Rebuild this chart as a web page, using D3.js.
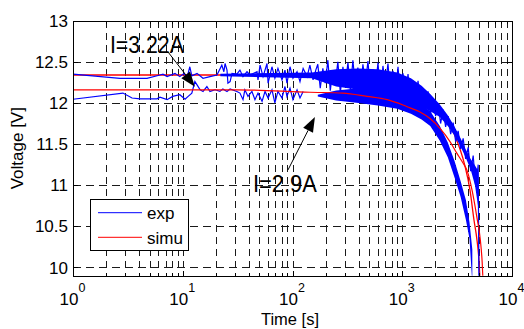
<!DOCTYPE html>
<html>
<head>
<meta charset="utf-8">
<script src="https://cdn.jsdelivr.net/npm/d3@7"></script>
<style>
body { margin: 0; background: #fff; }
svg { display: block; font-family: "Liberation Sans", Arial, sans-serif; }
</style>
</head>
<body>
<div id="chart"></div>
<script>
// measured trace, upper level (start ~12.35 V)
const expA_t0 = [1,2.68,4.72,6.2,6.6,7.2,8.5,9.4,10.3,10.9,11.6,12.1,13.5,15.3,17.7,20.5,22.7,23.7,24.3,25.3,25.8,27.0,28.1,31.1,33.2,35.4,38.5,41.0,47.5,48.5,50.6,53.9,58.6,59.9,65.0,69.1,73.7,80.2,85.4,89.0,94.9,101,110,117,125,136,144,154,163];
const expA_v0 = [12.35,12.30,12.30,12.34,12.35,12.32,12.36,12.32,12.36,12.30,12.44,12.33,12.36,12.30,12.32,12.34,12.46,12.38,12.48,12.40,12.24,12.26,12.36,12.35,12.40,12.32,12.38,12.34,12.38,12.28,12.46,12.32,12.48,12.24,12.44,12.30,12.42,12.28,12.40,12.24,12.44,12.30,12.38,12.26,12.42,12.32,12.46,12.28,12.40];
// measured trace, lower level (start ~12.05 V)
const expB_t0 = [1,2.85,3.45,4.08,5.83,6.2,7.2,8.1,9.4,10.5,11.2,12.1,12.9,13.5,14.4,15.3,16.6,17.7,19.7,21.8,23.2,25.3,27.0,31.1,33.2,35.4,36.8,39.3,42.7,45.5,48.5,52.8,56.2,59.9,65.0,69.1,73.7,80.2,85.4,89.0,94.9,101,110,117,125,136,144,154,163];
const expB_v0 = [12.045,12.12,12.06,12.05,12.05,12.07,12.04,12.08,12.10,12.045,12.08,12.12,12.26,12.22,12.16,12.14,12.20,12.14,12.16,12.14,12.17,12.14,12.17,12.14,12.12,12.04,12.16,12.08,12.14,12.04,12.12,12.02,12.14,12.06,12.16,12.00,12.14,12.06,12.20,12.08,12.18,12.04,12.16,12.06,12.14];

// sample times in the noisy part (s)
const denseT = [170,179,189,199,210,221,233,246,259,273,288,303,320,337,355,374,394,416,438,462,487,513,541,570,601,633,667,703,741,781,823,868,915,964,1016,1071,1129,1190,1254,1322,1393,1468,1548,1631,1719,1812,1910,2013,2122,2236,2357,2484,2618,2760,2909,3066,3231,3406,3590,3783,3988,4203,4430,4669,4921,5187];
const expA_v1 = [12.47,12.18,12.42,12.24,12.52,12.15,12.40,12.26,12.50,12.12,12.44,12.22,12.49,12.16,12.52,12.20,12.43,12.11,12.47,12.24,12.51,12.13,12.41,12.19,12.49,12.09,12.45,12.21,12.48,12.10,12.39,12.12,12.44,12.04,12.36,12.09,12.35,12.00,12.27,12.03,12.27,11.96,12.17,11.93,12.14,11.87,12.05,11.84,12.00,11.75,11.92,11.71,11.84,11.62,11.76,11.53,11.66,11.44,11.57,11.32,11.46,11.17,11.36,10.98,11.25];
const expA_t2 = [4960,5000];
const expA_v2 = [10.5,9.8];
const expB_v1 = [12.04,12.20,12.00,12.24,11.97,12.18,12.03,12.25,11.96,12.19,12.01,12.23,11.94,12.17,12.02,12.22,11.95,12.18,11.99,12.21,11.93,12.16,11.98,12.20,11.91,12.15,11.96,12.18,11.90,12.13,11.92,12.14,11.87,12.08,11.86,12.06,11.81,12.05,11.79,11.99,11.74,11.97,11.69,11.91,11.64,11.85,11.57,11.79,11.45,11.67,11.33,11.55,11.19,11.40,11.00,11.21,10.76,10.97,10.48,10.70,10.21,10.36,9.8];

// band where the noisy trace is solid: time, lower, upper (V)
const bandA_t  = [22,150,250,400,600,900,1200,1500,1800,2200,2600,3000,3400,3800,4200,4600,4900,4960,5010];
const bandA_lo = [12.325,12.30,12.20,12.16,12.13,12.08,12.02,11.96,11.90,11.83,11.72,11.60,11.47,11.33,11.19,11.00,10.75,10.25,9.80];
const bandA_hi = [12.355,12.37,12.41,12.42,12.41,12.37,12.30,12.21,12.11,11.98,11.85,11.71,11.57,11.43,11.32,11.24,11.18,10.95,10.40];
const bandB_t  = [170,250,400,600,900,1200,1500,1800,2200,2600,3000,3400,3800,4100,4350];
const bandB_lo = [12.08,12.03,12.00,11.97,11.93,11.87,11.80,11.72,11.54,11.34,11.09,10.86,10.58,10.35,9.80];
const bandB_hi = [12.10,12.15,12.18,12.16,12.12,12.05,11.98,11.90,11.72,11.52,11.29,11.05,10.82,10.55,10.22];

// simulation curves
const simA_t = [1,22,117,627,1452,2208,3000,3700,4143,4500,4800,5000,5110];
const simA_v = [12.34,12.34,12.32,12.25,12.10,11.91,11.61,11.25,10.94,10.58,10.33,10.09,9.85];
const simB_t = [1,31,144,288,477,728,1015,1177,1452,1790,2208,2723,3140,3577,3893,4324,4800,5150,5350,5440];
const simB_v = [12.16,12.16,12.13,12.12,12.08,12.04,11.975,11.94,11.89,11.81,11.69,11.53,11.39,11.27,11.18,10.94,10.60,10.33,10.06,9.85];

const xDecades = [0,1,2,3,4];
const yTicks = [10,10.5,11,11.5,12,12.5,13];
const yTickLabels = ["10","10.5","11","11.5","12","12.5","13"];
const legendNames = ["exp","simu"];
const legendColors = ["#0000ff","#ff0000"];
// annotations: text anchor (t,V), arrow tail (t,V), arrow tip (t,V)
const annoText = ["I=3.22A","I=2.9A"];
const annoPos = [[2.17,12.607],[43.6,10.918]];
const annoTail = [[7.34,12.62],[91,11.186]];
const annoTip = [[12.9,12.198],[160,11.83]];
const annoWidth = [74,64];

const zip = (t, v) => t.map((d, i) => [d, v[i]]);
const zip3 = (t, lo, hi) => t.map((d, i) => [d, lo[i], hi[i]]);
const expA = zip(expA_t0, expA_v0).concat(zip(denseT.slice(0, 65), expA_v1), zip(expA_t2, expA_v2));
const expB = zip(expB_t0, expB_v0).concat(zip(denseT.slice(0, 63), expB_v1));
const bandA = zip3(bandA_t, bandA_lo, bandA_hi);
const bandB = zip3(bandB_t, bandB_lo, bandB_hi);
const simA = zip(simA_t, simA_v);
const simB = zip(simB_t, simB_v);

const W = 524, H = 329;
const plot = { left: 73, right: 512, top: 20.7, bottom: 275.7 };

const svg = d3.select("#chart").append("svg").attr("width", W).attr("height", H);

const x = d3.scaleLog().domain([1, 1e4]).range([plot.left, plot.right]);
const y = d3.scaleLinear().domain([9.9, 13]).range([plot.bottom, plot.top]);

const snap = v => Math.round(v) + 0.5;

// grid
let minorT = [];
for (let k = 0; k < 4; k++) for (let m = 1; m <= 9; m++) minorT.push(m * Math.pow(10, k));
minorT = minorT.filter(d => d > 1);

const grid = svg.append("g").attr("stroke", "#1a1a1a").attr("stroke-width", 1).attr("shape-rendering", "crispEdges");
grid.selectAll(".vg").data(minorT).enter().append("line")
    .attr("x1", d => snap(x(d))).attr("x2", d => snap(x(d)))
    .attr("y1", plot.top).attr("y2", plot.bottom)
    .attr("stroke-dasharray", "7,5");
grid.selectAll(".hg").data(yTicks.filter(d => d < 13)).enter().append("line")
    .attr("y1", d => snap(y(d))).attr("y2", d => snap(y(d)))
    .attr("x1", plot.left).attr("x2", plot.right)
    .attr("stroke-dasharray", "8,5");

// data
svg.append("clipPath").attr("id", "clip").append("rect")
    .attr("x", plot.left).attr("y", plot.top)
    .attr("width", plot.right - plot.left).attr("height", plot.bottom - plot.top);

const line = d3.line().x(d => x(d[0])).y(d => y(d[1]));
const smooth = d3.line().x(d => x(d[0])).y(d => y(d[1])).curve(d3.curveMonotoneX);
const band = d3.area().x(d => x(d[0])).y0(d => y(d[1])).y1(d => y(d[2]));
const data = svg.append("g").attr("clip-path", "url(#clip)").attr("fill", "none");

data.append("path").attr("d", smooth(simA)).attr("stroke", "#ff0000").attr("stroke-width", 1.3);
data.append("path").attr("d", band(bandB)).attr("fill", "#0000ff");
data.append("path").attr("d", line(expB)).attr("stroke", "#0000ff").attr("stroke-width", 1.2);
data.append("path").attr("d", band(bandA)).attr("fill", "#0000ff");
data.append("path").attr("d", line(expA)).attr("stroke", "#0000ff").attr("stroke-width", 1.2);
data.append("path").attr("d", smooth(simB)).attr("stroke", "#ff0000").attr("stroke-width", 1.2);

// axes box and ticks
const axes = svg.append("g").attr("stroke", "#000").attr("shape-rendering", "crispEdges");
axes.append("rect")
    .attr("x", snap(plot.left)).attr("y", snap(plot.top))
    .attr("width", Math.round(plot.right - plot.left)).attr("height", Math.round(plot.bottom - plot.top))
    .attr("fill", "none");

const allT = minorT.concat([1, 1e4]);
allT.forEach(d => {
    const isMajor = Math.abs(Math.log10(d) - Math.round(Math.log10(d))) < 1e-9;
    const len = isMajor ? 5 : 3;
    const xx = snap(x(d));
    axes.append("line").attr("x1", xx).attr("x2", xx).attr("y1", plot.bottom).attr("y2", plot.bottom - len);
    axes.append("line").attr("x1", xx).attr("x2", xx).attr("y1", plot.top).attr("y2", plot.top + len);
});
yTicks.forEach(d => {
    const yy = snap(y(d));
    axes.append("line").attr("y1", yy).attr("y2", yy).attr("x1", plot.left).attr("x2", plot.left + 5);
    axes.append("line").attr("y1", yy).attr("y2", yy).attr("x1", plot.right).attr("x2", plot.right - 5);
});

// tick labels
svg.append("g").selectAll("text").data(yTicks).enter().append("text")
    .attr("x", 68).attr("y", d => y(d)).attr("dy", "0.36em")
    .attr("text-anchor", "end").attr("font-size", 17)
    .text((d, i) => yTickLabels[i]);

const xl = svg.append("g").attr("font-size", 17);
xDecades.forEach(p => {
    const xx = x(Math.pow(10, p));
    xl.append("text").attr("x", xx + 5.5).attr("y", 305).attr("text-anchor", "end").text("10");
    xl.append("text").attr("x", xx + 5.5).attr("y", 291.5).attr("font-size", 12.5).text(p);
});

svg.append("text").attr("x", 290).attr("y", 325).attr("text-anchor", "middle")
    .attr("font-size", 16.5).text("Time [s]");
svg.append("text").attr("transform", "translate(23," + ((plot.top + plot.bottom) / 2) + ") rotate(-90)")
    .attr("text-anchor", "middle").attr("font-size", 17).text("Voltage [V]");

// legend
const lg = svg.append("g");
lg.append("rect").attr("x", 90.5).attr("y", 199.5).attr("width", 98).attr("height", 51)
    .attr("fill", "#fff").attr("stroke", "#000").attr("shape-rendering", "crispEdges");
legendNames.forEach((name, i) => {
    const ly = 212.7 + i * 24.6;
    lg.append("line").attr("x1", 98).attr("x2", 142).attr("y1", ly).attr("y2", ly)
        .attr("stroke", legendColors[i]).attr("stroke-width", 1);
    lg.append("text").attr("x", 147).attr("y", ly + 6.5).attr("font-size", 17).text(name);
});

// annotations
const ann = svg.append("g");
annoText.forEach((txt, i) => {
    ann.append("text").attr("x", x(annoPos[i][0])).attr("y", y(annoPos[i][1]))
        .attr("font-size", 23).attr("textLength", annoWidth[i]).attr("lengthAdjust", "spacingAndGlyphs")
        .text(txt);
    const x0 = x(annoTail[i][0]), y0 = y(annoTail[i][1]);
    const x1 = x(annoTip[i][0]), y1 = y(annoTip[i][1]);
    const ang = Math.atan2(y1 - y0, x1 - x0);
    const hl = 15, hw = 5.5;
    const bx = x1 - hl * Math.cos(ang), by = y1 - hl * Math.sin(ang);
    ann.append("line").attr("x1", x0).attr("y1", y0).attr("x2", bx).attr("y2", by)
        .attr("stroke", "#000").attr("stroke-width", 1);
    ann.append("path")
        .attr("d", d3.line()([
            [x1, y1],
            [bx + hw * Math.sin(ang), by - hw * Math.cos(ang)],
            [bx - hw * Math.sin(ang), by + hw * Math.cos(ang)]
        ]) + "Z")
        .attr("fill", "#000");
});
</script>
</body>
</html>
